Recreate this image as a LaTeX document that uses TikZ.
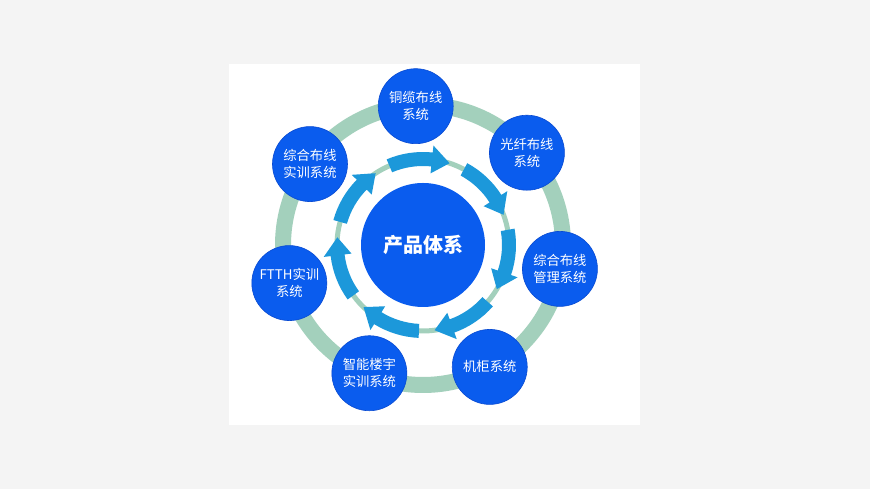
\documentclass[tikz,border=0pt]{standalone}
\usepackage{fontspec}
\newfontfamily\cjk{Noto Sans CJK SC}
\definecolor{sysblue}{RGB}{10,92,238}
\definecolor{sysedge}{RGB}{8,74,210}
\definecolor{flowblue}{RGB}{28,152,218}
\definecolor{ringgreen}{RGB}{163,208,188}
\definecolor{pagegray}{RGB}{244,244,244}
\begin{document}
\begin{tikzpicture}[x=1pt, y=1pt,
    sys/.style={circle, fill=sysblue, draw=sysedge, line width=0.6pt, minimum size=75pt, inner sep=0pt, align=center, text=white, font=\cjk\fontsize{13.3}{17}\selectfont},
    hub/.style={circle, fill=sysblue, minimum size=124pt, inner sep=0pt, text=white, font=\cjk\bfseries\fontsize{20}{24}\selectfont}]
    \fill[pagegray] (0,0) rectangle (870,489);
    \fill[white] (229,64) rectangle (640,425);
    \coordinate (c) at (423,244);
    % outer ring and inner track
    \draw[ringgreen, line width=16pt] (c) circle[radius=140];
    \draw[ringgreen, line width=5pt] (c) circle[radius=86];
    % flow arrows, clockwise
    \foreach \k [evaluate=\k as \t using 72-360/7*\k] in {0,...,6}
        \fill[flowblue, shift={(c)}] ({\t+41}:79) arc[start angle=\t+41, end angle=\t+12, radius=79]
            -- ({\t+12}:72) -- ({\t}:86) -- ({\t+12}:100) -- ({\t+12}:93)
            arc[start angle=\t+12, end angle=\t+41, radius=93] -- cycle;
    \node[hub] (hub) at (c) {产品体系};
    \node[sys] (tonglan) at ([shift=(93:139)] c) {铜缆布线\\系统};
    \node[sys] (guangxian) at ([shift=(41.6:139)] c) {光纤布线\\系统};
    \node[sys] (guanli) at ([shift=(-9.9:139)] c) {综合布线\\管理系统};
    \node[sys] (jigui) at ([shift=(-61.3:139)] c) {机柜系统};
    \node[sys] (louyu) at ([shift=(-112.7:139)] c) {智能楼宇\\实训系统};
    \node[sys] (ftth) at ([shift=(-164.1:139)] c) {FTTH实训\\系统};
    \node[sys] (shixun) at ([shift=(144.4:139)] c) {综合布线\\实训系统};
\end{tikzpicture}
\end{document}
